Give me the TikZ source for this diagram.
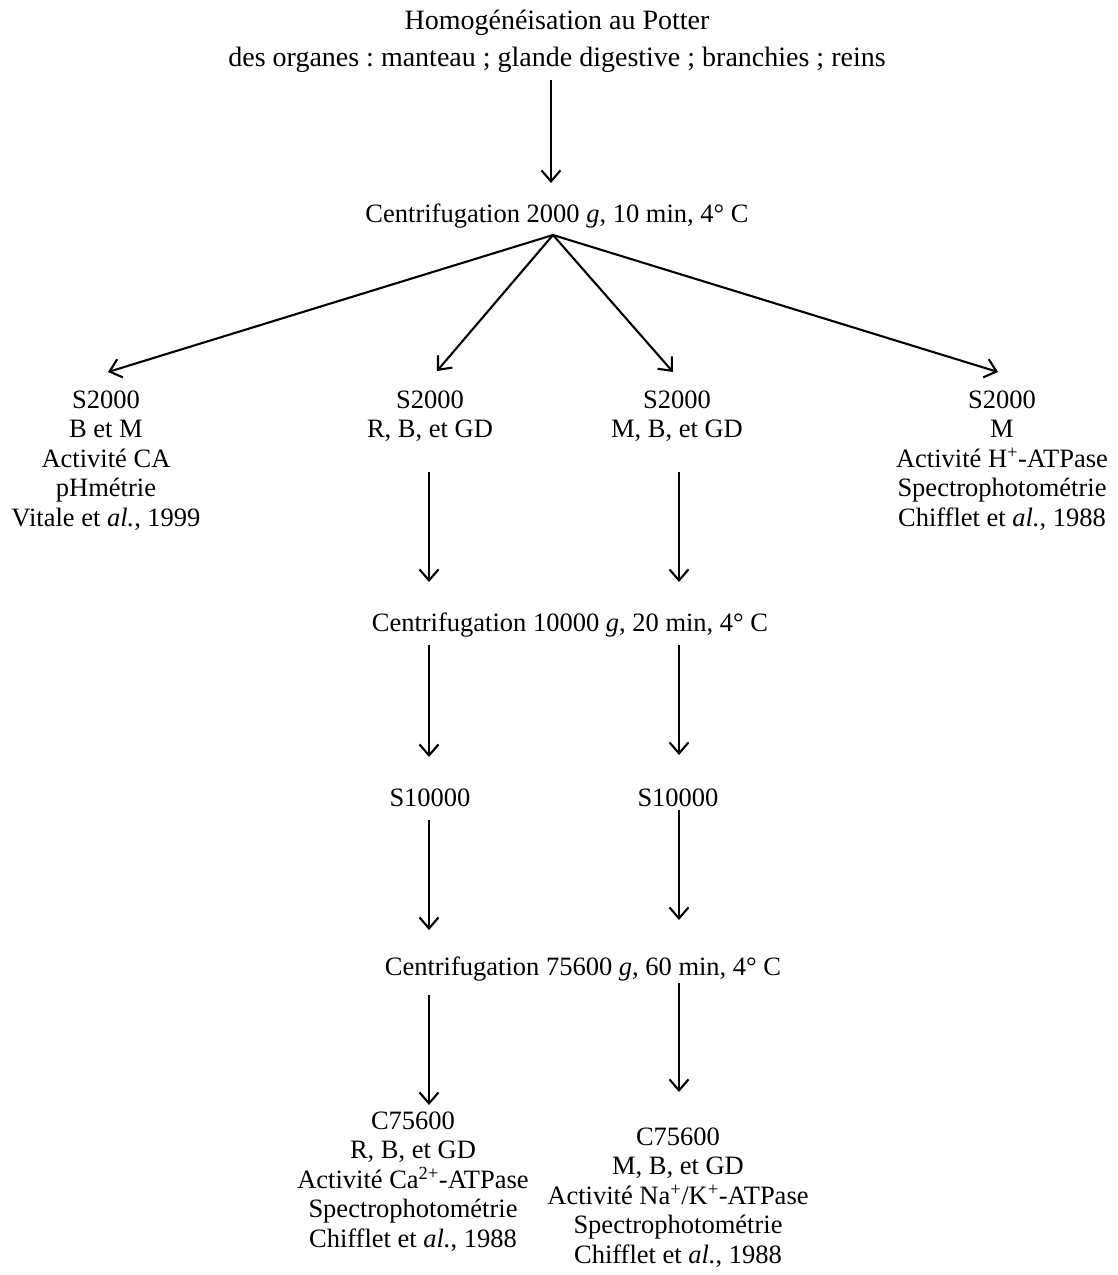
\documentclass[tikz,border=0pt]{standalone}
\usepackage{fontspec}
\setmainfont{Liberation Serif}
\usetikzlibrary{arrows.meta}
\begin{document}
\frenchspacing
\begin{tikzpicture}[x=1pt,y=-1pt,
  txt/.style={font=\fontsize{26.5}{29.6}\selectfont, align=center, inner sep=0pt, anchor=base},
  toptxt/.style={txt, font=\fontsize{28}{37}\selectfont},
  arr/.style={line width=2.1pt, -{Straight Barb[length=11pt,width=19pt]}}]
\useasboundingbox (0,0) rectangle (1117,1275);
% texts (anchor base = baseline of the last line)
\node[toptxt] (top) at (557,66) {Homogénéisation au Potter\\des organes : manteau ; glande digestive ; branchies ; reins};
\node[txt] (c1) at (557,222) {Centrifugation 2000 \textit{g}, 10 min, 4° C};
\node[txt] (s1) at (106,526.4) {S2000\\B et M\\Activité CA\\pHmétrie\\Vitale et \textit{al.}, 1999};
\node[txt] (s2) at (430,437.6) {S2000\\R, B, et GD};
\node[txt] (s3) at (677,437.6) {S2000\\M, B, et GD};
\node[txt] (s4) at (1002,526.4) {S2000\\M\\Activité H\textsuperscript{+}-ATPase\\Spectrophotométrie\\Chifflet et \textit{al.}, 1988};
\node[txt] (c2) at (570,631) {Centrifugation 10000 \textit{g}, 20 min, 4° C};
\node[txt] (t1) at (430,806) {S10000};
\node[txt] (t2) at (678,806) {S10000};
\node[txt] (c3) at (583,975) {Centrifugation 75600 \textit{g}, 60 min, 4° C};
\node[txt] (b1) at (413,1247.4) {C75600\\R, B, et GD\\Activité Ca\textsuperscript{2+}-ATPase\\Spectrophotométrie\\Chifflet et \textit{al.}, 1988};
\node[txt] (b2) at (678,1263.4) {C75600\\M, B, et GD\\Activité Na\textsuperscript{+}/K\textsuperscript{+}-ATPase\\Spectrophotométrie\\Chifflet et \textit{al.}, 1988};
% connector ends
\coordinate (a0s) at (551,80);  \coordinate (a0e) at (551,183);
\coordinate (apex) at (553,235);
\coordinate (d1) at (108,372); \coordinate (d2) at (437,371);
\coordinate (d3) at (673,372); \coordinate (d4) at (998,372);
\coordinate (v1s) at (429,472); \coordinate (v1e) at (429,582);
\coordinate (v2s) at (679,472); \coordinate (v2e) at (679,582);
\coordinate (w1s) at (429,645); \coordinate (w1e) at (429,757);
\coordinate (w2s) at (679,645); \coordinate (w2e) at (679,755);
\coordinate (x1s) at (429,820); \coordinate (x1e) at (429,930);
\coordinate (x2s) at (679,810); \coordinate (x2e) at (679,920);
\coordinate (y1s) at (429,995); \coordinate (y1e) at (429,1105);
\coordinate (y2s) at (679,983); \coordinate (y2e) at (679,1092);
% connectors
\draw[arr] (a0s) -- (a0e);
\draw[arr] (apex) -- (d1);
\draw[arr] (apex) -- (d2);
\draw[arr] (apex) -- (d3);
\draw[arr] (apex) -- (d4);
\draw[arr] (v1s) -- (v1e);
\draw[arr] (v2s) -- (v2e);
\draw[arr] (w1s) -- (w1e);
\draw[arr] (w2s) -- (w2e);
\draw[arr] (x1s) -- (x1e);
\draw[arr] (x2s) -- (x2e);
\draw[arr] (y1s) -- (y1e);
\draw[arr] (y2s) -- (y2e);
\end{tikzpicture}
\end{document}
